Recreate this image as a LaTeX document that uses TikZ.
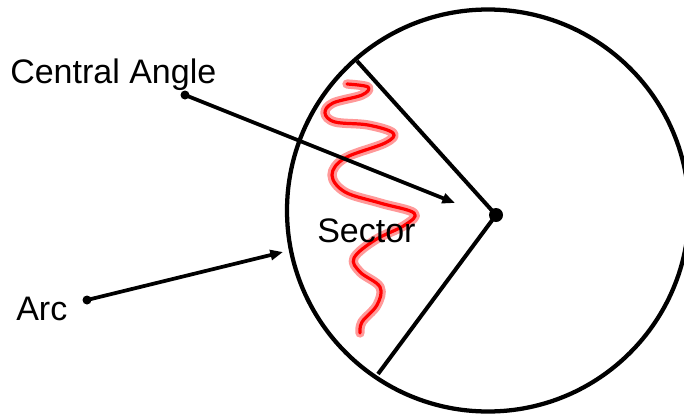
\documentclass[tikz,border=0pt]{standalone}
\usepackage{fontspec}
\setmainfont{Liberation Sans}
\usetikzlibrary{arrows.meta}
\begin{document}
\begin{tikzpicture}[x=0.75pt,y=-0.75pt,
  lbl/.style={anchor=base west, inner sep=0pt, font=\fontsize{25.5pt}{30pt}\selectfont},
  thick line/.style={line width=3pt},
  pointer/.style={line width=2.8pt, -{Triangle[length=9.5pt,width=7.5pt]}},
  blob/.style={fill=black}]
\useasboundingbox (0,0) rectangle (684,414);
\begin{scope}
\clip (0,0) rectangle (684,414);
\draw[line width=3.2pt] (488,210.5) circle[radius=201];
\end{scope}
% centre and radii
\coordinate (O) at (496,215);
\coordinate (A) at (357,61);
\coordinate (B) at (378,374);
\draw[thick line] (A) -- (O) -- (B);
\fill[blob] (O) circle[radius=7];
% squiggle
\def\squig{plot[smooth, tension=0.6] coordinates {(347,84) (368,87) (362,95) (333,103) (325,113) (335,122) (368,125) (393,133) (385,143) (345,158) (332,175) (345,192) (380,203) (414,213) (405,225) (375,240) (354,258) (360,272) (380,287) (377,305) (362,322) (360,333)}}
\draw[red, opacity=0.4, line width=7pt, line cap=round, line join=round] \squig;
\draw[red, line width=2.4pt, line cap=round, line join=round] \squig;
% labels
\node[lbl] (central) at (10,83) {Central Angle};
\node[lbl] (arc) at (16,320) {Arc};
\node[lbl] (sector) at (317,242) {Sector};
% pointers
\coordinate (cs) at (185,95);
\coordinate (ce) at (455,203);
\coordinate (as) at (87,300);
\coordinate (ae) at (283,252);
\fill[blob] (cs) circle[radius=4.5];
\fill[blob] (as) circle[radius=4.5];
\draw[pointer] (cs) -- (ce);
\draw[pointer] (as) -- (ae);
\end{tikzpicture}
\end{document}
